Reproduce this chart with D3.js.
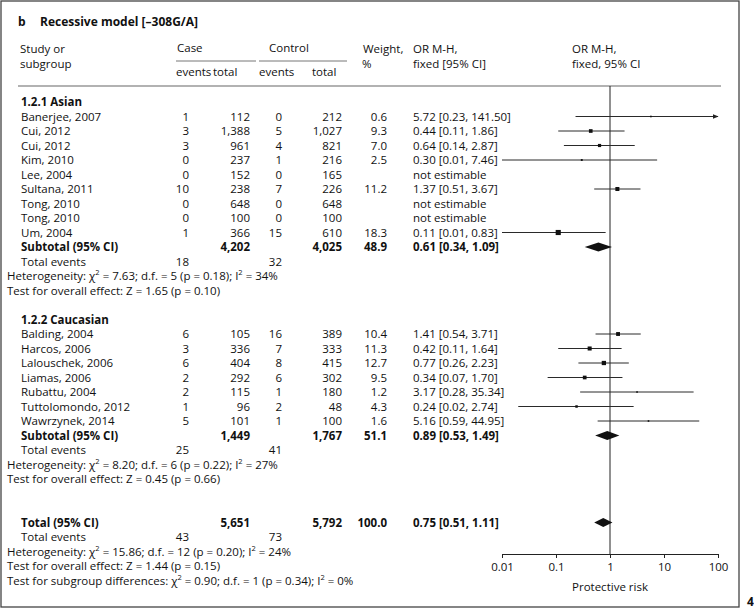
<!DOCTYPE html>
<html><head><meta charset="utf-8">
<script src="https://cdn.jsdelivr.net/npm/d3@7"></script>
<style>
body{margin:0;background:#fff;}
svg text{font-family:"Open Sans","Noto Sans",sans-serif;fill:#111;}
</style></head><body>
<svg id="c" width="754" height="610"></svg>
<script>
// ---------- DATA ----------
const asianStudies = ["Banerjee, 2007","Cui, 2012","Cui, 2012","Kim, 2010","Lee, 2004","Sultana, 2011","Tong, 2010","Tong, 2010","Um, 2004"];
const asianCaseEvents = [1,3,3,0,0,10,0,0,1];
const asianCaseTotal = [112,1388,961,237,152,238,648,100,366];
const asianCtrlEvents = [0,5,4,1,0,7,0,0,15];
const asianCtrlTotal = [212,1027,821,216,165,226,648,100,610];
const asianWeight = [0.6,9.3,7.0,2.5,null,11.2,null,null,18.3];
const asianOR = [5.72,0.44,0.64,0.30,null,1.37,null,null,0.11];
const asianLo = [0.23,0.11,0.14,0.01,null,0.51,null,null,0.01];
const asianHi = [141.50,1.86,2.87,7.46,null,3.67,null,null,0.83];

const caucStudies = ["Balding, 2004","Harcos, 2006","Lalouschek, 2006","Liamas, 2006","Rubattu, 2004","Tuttolomondo, 2012","Wawrzynek, 2014"];
const caucCaseEvents = [6,3,6,2,2,1,5];
const caucCaseTotal = [105,336,404,292,115,96,101];
const caucCtrlEvents = [16,7,8,6,1,2,1];
const caucCtrlTotal = [389,333,415,302,180,48,100];
const caucWeight = [10.4,11.3,12.7,9.5,1.2,4.3,1.6];
const caucOR = [1.41,0.42,0.77,0.34,3.17,0.24,5.16];
const caucLo = [0.54,0.11,0.26,0.07,0.28,0.02,0.59];
const caucHi = [3.71,1.64,2.23,1.70,35.34,2.74,44.95];

// subtotal / total: [caseTotal, ctrlTotal, weight, OR, lo, hi, caseEvents, ctrlEvents]
const asianSubtotal = [4202,4025,48.9,0.61,0.34,1.09,18,32];
const caucSubtotal = [1449,1767,51.1,0.89,0.53,1.49,25,41];
const overallTotal = [5651,5792,100.0,0.75,0.51,1.11,43,73];

const asianHet = {chi:"7.63", df:"5", p:"0.18", i2:"34%", z:"1.65", pz:"0.10"};
const caucHet = {chi:"8.20", df:"6", p:"0.22", i2:"27%", z:"0.45", pz:"0.66"};
const totalHet = {chi:"15.86", df:"12", p:"0.20", i2:"24%", z:"1.44", pz:"0.15"};
const subgroupDiff = {chi:"0.90", df:"1", p:"0.34", i2:"0%"};

const axisTicks = [0.01,0.1,1,10,100];
const axisTickLabels = ["0.01","0.1","1","10","100"];

// ---------- LAYOUT ----------
const svg = d3.select("#c");
const FS = 11.5;
const x = d3.scaleLog().domain([0.01,100]).range([502,718]);
const row = d3.scaleLinear().domain([0,1]).range([102,116.5]);
const fmtN = d3.format(",");
const f2 = v => v.toFixed(2);

const col = {name:21, ce:189, ct:250, ke:282, kt:342, w:387, or:413, left:7};

// frame
svg.append("rect").attr("x",1).attr("y",1).attr("width",738).attr("height",606)
  .attr("fill","none").attr("stroke","#444").attr("stroke-width",1.3);
svg.append("text").attr("x",747).attr("y",606).attr("font-weight","bold").attr("font-size",12).text("4");

function txt(xp,yc,s,opts={}){
  const t = svg.append("text").attr("x",xp).attr("y",yc).attr("dy","0.35em")
    .attr("font-size",opts.size||FS).text(s);
  if(opts.anchor) t.attr("text-anchor",opts.anchor);
  if(opts.bold) t.attr("font-weight","bold");
  return t;
}

// title
txt(18,22,"b",{bold:true,size:12});
txt(40,22,"Recessive model [–308G/A]",{bold:true,size:12});

// header
txt(20,49,"Study or"); txt(20,64,"subgroup");
txt(177,48,"Case"); txt(269,48,"Control");
svg.append("line").attr("x1",176).attr("x2",256).attr("y1",61).attr("y2",61).attr("stroke","#777");
svg.append("line").attr("x1",259).attr("x2",347).attr("y1",61).attr("y2",61).attr("stroke","#777");
txt(176,72,"events"); txt(213,72,"total");
txt(259,72,"events"); txt(312,72,"total");
txt(363,49,"Weight,"); txt(362,64,"%");
txt(col.or,49,"OR M-H,"); txt(col.or,64,"fixed [95% CI]");
txt(572,49,"OR M-H,"); txt(572,64,"fixed, 95% CI");
svg.append("line").attr("x1",18).attr("x2",721).attr("y1",86).attr("y2",86).attr("stroke","#666").attr("stroke-width",1.2);

// vertical line at OR=1
svg.append("line").attr("x1",x(1)).attr("x2",x(1)).attr("y1",86).attr("y2",554).attr("stroke","#222").attr("stroke-width",1);

// axis
const axis = d3.axisBottom(x).tickValues(axisTicks).tickFormat((d,i)=>axisTickLabels[i]).tickSize(4).tickSizeOuter(0);
const ag = svg.append("g").attr("transform","translate(0,554)").call(axis);
ag.select(".domain").attr("stroke","#222");
ag.selectAll(".tick line").attr("stroke","#222");
ag.selectAll(".tick text").attr("font-size",FS).attr("font-family","Open Sans").attr("fill","#111").attr("dy","0.9em");
txt(x(1),587,"Protective risk",{anchor:"middle"});

// markers
svg.append("defs").append("marker").attr("id","arr").attr("viewBox","0 0 10 10").attr("refX",9).attr("refY",5)
  .attr("markerWidth",6).attr("markerHeight",6).attr("orient","auto").attr("markerUnits","userSpaceOnUse")
  .append("path").attr("d","M0,1L10,5L0,9Z").attr("fill","#222");

function studyRow(k,name,ce,ct,ke,kt,w,or,lo,hi){
  const y = row(k);
  txt(col.name,y,name);
  txt(col.ce,y,ce,{anchor:"end"});
  txt(col.ct,y,fmtN(ct),{anchor:"end"});
  txt(col.ke,y,ke,{anchor:"end"});
  txt(col.kt,y,fmtN(kt),{anchor:"end"});
  if(or==null){ txt(col.or,y,"not estimable"); return; }
  txt(col.w,y,w.toFixed(1),{anchor:"end"});
  txt(col.or,y,`${f2(or)} [${f2(lo)}, ${f2(hi)}]`);
  const [d0,d1] = x.domain();
  const l = svg.append("line").attr("x1",x(Math.max(lo,d0))).attr("x2",x(Math.min(hi,d1)))
    .attr("y1",y).attr("y2",y).attr("stroke","#2a2a2a").attr("stroke-width",1);
  if(hi>d1) l.attr("marker-end","url(#arr)");
  const s = Math.max(1.6,1.2*Math.sqrt(w));
  svg.append("rect").attr("x",x(or)-s/2).attr("y",y-s/2).attr("width",s).attr("height",s).attr("fill","#111");
}
function summaryRow(k,label,arr){
  const y = row(k);
  txt(col.name,y,label,{bold:true});
  txt(col.ct,y,fmtN(arr[0]),{anchor:"end",bold:true});
  txt(col.kt,y,fmtN(arr[1]),{anchor:"end",bold:true});
  txt(col.w,y,arr[2].toFixed(1),{anchor:"end",bold:true});
  txt(col.or,y,`${f2(arr[3])} [${f2(arr[4])}, ${f2(arr[5])}]`,{bold:true});
  const h=4.6;
  svg.append("path").attr("d",`M${x(arr[4])},${y}L${x(arr[3])},${y-h}L${x(arr[5])},${y}L${x(arr[3])},${y+h}Z`).attr("fill","#111");
}
function eventsRow(k,arr){
  const y=row(k);
  txt(col.name,y,"Total events");
  txt(col.ce,y,arr[6],{anchor:"end"});
  txt(col.ke,y,arr[7],{anchor:"end"});
}
function hetRow(k,h){
  const y=row(k);
  const t = txt(col.left,y,"Heterogeneity: χ");
  t.append("tspan").attr("baseline-shift","super").attr("font-size",7.5).text("2");
  t.append("tspan").text(` = ${h.chi}; d.f. = ${h.df} (p = ${h.p}); I`);
  t.append("tspan").attr("baseline-shift","super").attr("font-size",7.5).text("2");
  t.append("tspan").text(` = ${h.i2}`);
}
function testRow(k,h){
  txt(col.left,row(k),`Test for overall effect: Z = ${h.z} (p = ${h.pz})`);
}

// Asian
txt(col.name,row(0),"1.2.1 Asian",{bold:true});
asianStudies.forEach((n,i)=>studyRow(1+i,n,asianCaseEvents[i],asianCaseTotal[i],asianCtrlEvents[i],asianCtrlTotal[i],asianWeight[i],asianOR[i],asianLo[i],asianHi[i]));
summaryRow(10,"Subtotal (95% CI)",asianSubtotal);
eventsRow(11,asianSubtotal);
hetRow(12,asianHet);
testRow(13,asianHet);

// Caucasian
txt(col.name,row(15),"1.2.2 Caucasian",{bold:true});
caucStudies.forEach((n,i)=>studyRow(16+i,n,caucCaseEvents[i],caucCaseTotal[i],caucCtrlEvents[i],caucCtrlTotal[i],caucWeight[i],caucOR[i],caucLo[i],caucHi[i]));
summaryRow(23,"Subtotal (95% CI)",caucSubtotal);
eventsRow(24,caucSubtotal);
hetRow(25,caucHet);
testRow(26,caucHet);

// Total
summaryRow(29,"Total (95% CI)",overallTotal);
eventsRow(30,overallTotal);
hetRow(31,totalHet);
testRow(32,totalHet);
{
  const t = txt(col.left,row(33),"Test for subgroup differences: χ");
  t.append("tspan").attr("baseline-shift","super").attr("font-size",7.5).text("2");
  t.append("tspan").text(` = ${subgroupDiff.chi}; d.f. = ${subgroupDiff.df} (p = ${subgroupDiff.p}); I`);
  t.append("tspan").attr("baseline-shift","super").attr("font-size",7.5).text("2");
  t.append("tspan").text(` = ${subgroupDiff.i2}`);
}
</script></body></html>
